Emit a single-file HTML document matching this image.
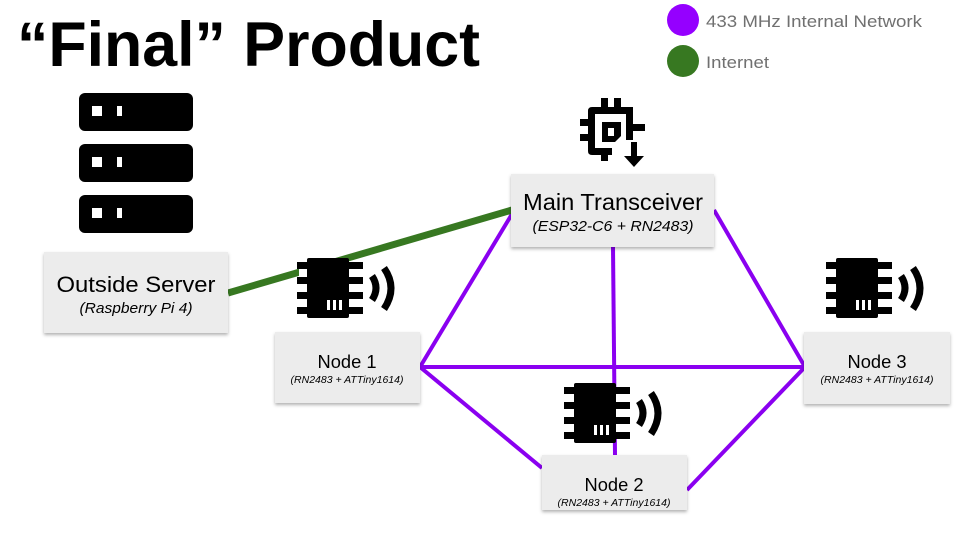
<!DOCTYPE html>
<html><head><meta charset="utf-8"><style>
html,body{margin:0;padding:0;background:#fff;}
svg{display:block;}
.box{fill:#ececec;filter:url(#sh);}
.t{font-family:"Liberation Sans",sans-serif;fill:#000;text-anchor:middle;}
</style></head><body>
<svg width="960" height="540" viewBox="0 0 960 540" xmlns="http://www.w3.org/2000/svg">
<defs>
<filter id="sh" x="-10%" y="-10%" width="130%" height="140%"><feDropShadow dx="0" dy="2" stdDeviation="1.5" flood-color="#000" flood-opacity="0.3"/></filter>
<g id="chip">
<rect x="10" y="0" width="42" height="60" rx="2" fill="#000"/>
<rect x="0" y="4" width="66" height="7" fill="#000"/>
<rect x="0" y="19" width="66" height="7" fill="#000"/>
<rect x="0" y="34" width="66" height="7" fill="#000"/>
<rect x="0" y="49" width="66" height="7" fill="#000"/>
<rect x="2" y="11" width="8" height="8" fill="#fff"/>
<rect x="2" y="26" width="8" height="8" fill="#fff"/>
<rect x="2" y="41" width="8" height="8" fill="#fff"/>
<rect x="52" y="11" width="12" height="8" fill="#fff"/>
<rect x="52" y="26" width="12" height="8" fill="#fff"/>
<rect x="52" y="41" width="12" height="8" fill="#fff"/>
<rect x="30" y="42" width="3" height="10" fill="#fff"/>
<rect x="36" y="42" width="3" height="10" fill="#fff"/>
<rect x="42" y="42" width="3" height="10" fill="#fff"/>
<path d="M75 18 Q83 30 75 42" stroke="#000" stroke-width="7" fill="none"/>
<path d="M87 10 Q101 30 87 51" stroke="#000" stroke-width="7" fill="none"/>
</g>
<g id="srv"><rect x="0" y="0" width="114" height="38" rx="6" fill="#000"/><rect x="13" y="13" width="10" height="10" fill="#fff"/><rect x="38" y="13" width="5" height="10" fill="#fff"/></g>
</defs>

<text x="17" y="66" font-family="Liberation Sans,sans-serif" font-weight="bold" font-size="63" textLength="463" lengthAdjust="spacingAndGlyphs">“Final” Product</text>

<circle cx="683" cy="20" r="16" fill="#9500ff"/>
<circle cx="683" cy="61" r="16" fill="#377821"/>
<text x="706" y="27" font-family="Liberation Sans,sans-serif" font-size="17" fill="#707070" textLength="216" lengthAdjust="spacingAndGlyphs">433 MHz Internal Network</text>
<text x="706" y="68" font-family="Liberation Sans,sans-serif" font-size="17" fill="#707070" textLength="63" lengthAdjust="spacingAndGlyphs">Internet</text>

<use href="#srv" x="79" y="93"/>
<use href="#srv" x="79" y="144"/>
<use href="#srv" x="79" y="195"/>

<g stroke="#8a00f0" stroke-width="4" fill="none">
<line x1="420" y1="367" x2="512" y2="214"/>
<line x1="714" y1="210" x2="805" y2="367"/>
<line x1="613" y1="247" x2="615" y2="455"/>
<line x1="420" y1="367" x2="805" y2="367"/>
<line x1="420" y1="367" x2="542" y2="468"/>
<line x1="687" y1="490" x2="805" y2="367"/>
</g>
<line x1="228" y1="293" x2="512" y2="210" stroke="#377821" stroke-width="7"/>

<g fill="#000">
<path d="M592 107 H633 V140 H626 V114 H595 V148 H612 V155 H592 Q588 155 588 151 V111 Q588 107 592 107Z"/>
<rect x="601" y="98" width="7" height="10"/><rect x="614" y="98" width="7" height="10"/>
<rect x="580" y="119" width="9" height="7"/><rect x="580" y="134" width="9" height="7"/>
<rect x="632" y="124" width="13" height="7"/>
<rect x="601" y="154" width="7" height="7"/>
<path d="M602 122 H621 V136 L615 142 H602Z M608 128 V136 H614 V128Z" fill-rule="evenodd"/>
<rect x="631" y="142" width="6" height="16"/>
<path d="M624 156 H644 L634 167Z"/>
</g>
<use href="#chip" x="297" y="258"/>
<use href="#chip" x="826" y="258"/>
<use href="#chip" x="564" y="383"/>

<rect class="box" x="44" y="252" width="184" height="81"/>
<text class="t" x="136" y="292" font-size="22" textLength="159" lengthAdjust="spacingAndGlyphs">Outside Server</text>
<text class="t" x="136" y="313" font-size="15" font-style="italic" textLength="113" lengthAdjust="spacingAndGlyphs">(Raspberry Pi 4)</text>

<rect class="box" x="511" y="174" width="203" height="73"/>
<text class="t" x="613" y="210" font-size="23" textLength="180" lengthAdjust="spacingAndGlyphs">Main Transceiver</text>
<text class="t" x="613" y="231" font-size="15" font-style="italic" textLength="161" lengthAdjust="spacingAndGlyphs">(ESP32-C6 + RN2483)</text>

<rect class="box" x="275" y="332" width="145" height="71"/>
<text class="t" x="347" y="368" font-size="18" textLength="59" lengthAdjust="spacingAndGlyphs">Node 1</text>
<text class="t" x="347" y="383" font-size="10" font-style="italic" textLength="113" lengthAdjust="spacingAndGlyphs">(RN2483 + ATTiny1614)</text>

<rect class="box" x="804" y="332" width="146" height="72"/>
<text class="t" x="877" y="368" font-size="18" textLength="59" lengthAdjust="spacingAndGlyphs">Node 3</text>
<text class="t" x="877" y="383" font-size="10" font-style="italic" textLength="113" lengthAdjust="spacingAndGlyphs">(RN2483 + ATTiny1614)</text>

<rect class="box" x="542" y="455" width="145" height="55"/>
<text class="t" x="614" y="491" font-size="18" textLength="59" lengthAdjust="spacingAndGlyphs">Node 2</text>
<text class="t" x="614" y="506" font-size="10" font-style="italic" textLength="113" lengthAdjust="spacingAndGlyphs">(RN2483 + ATTiny1614)</text>
</svg>
</body></html>
